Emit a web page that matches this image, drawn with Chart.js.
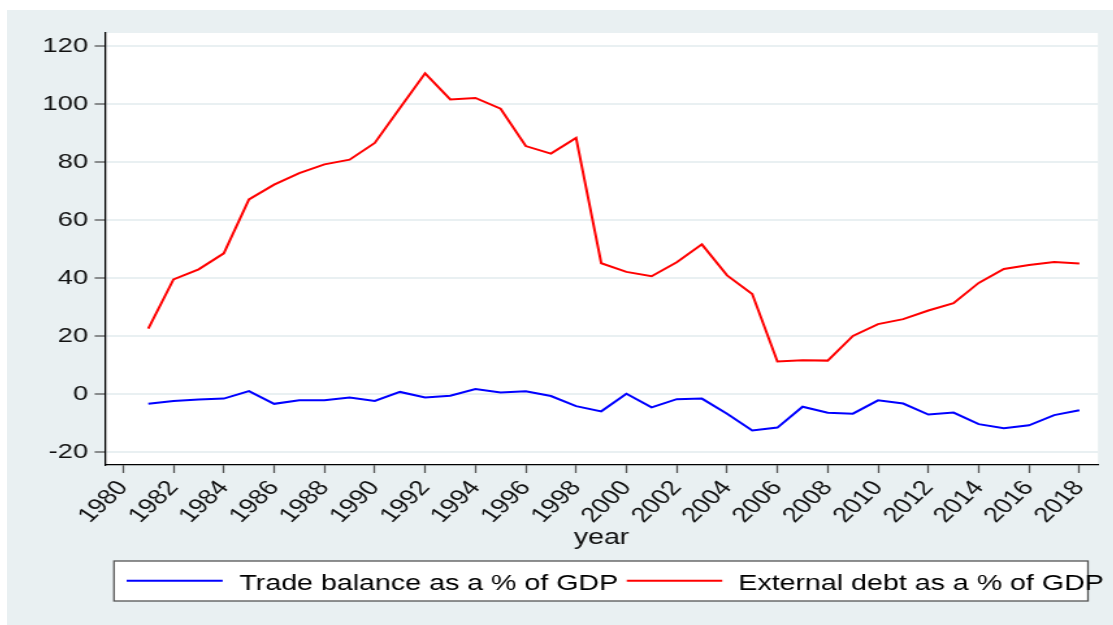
<!DOCTYPE html>
<html>
<head>
<meta charset="utf-8">
<title>Trade balance and external debt</title>
<script src="https://cdn.jsdelivr.net/npm/chart.js@4.4.1/dist/chart.umd.min.js"></script>
<style>
  html, body { margin: 0; padding: 0; background: #ffffff; }
  body { width: 1113px; height: 625px; overflow: hidden; position: relative; }
  /* the graph is laid out on a narrower canvas and widened horizontally */
  #frame { position: absolute; left: 7px; top: 10px; width: 851px; height: 615px;
           transform: scaleX(1.3); transform-origin: 0 0; }
  #chart { display: block; }
</style>
</head>
<body>
<div id="frame"><canvas id="chart" width="851" height="615"></canvas></div>
<script>
// yearly observations
const years = [1981, 1982, 1983, 1984, 1985, 1986, 1987, 1988, 1989, 1990,
               1991, 1992, 1993, 1994, 1995, 1996, 1997, 1998, 1999, 2000,
               2001, 2002, 2003, 2004, 2005, 2006, 2007, 2008, 2009, 2010,
               2011, 2012, 2013, 2014, 2015, 2016, 2017, 2018];

const tradeBalance = [-3.4, -2.4, -1.9, -1.6, 1.0, -3.4, -2.2, -2.2, -1.2, -2.4,
                      0.7, -1.2, -0.6, 1.7, 0.5, 0.9, -0.7, -4.2, -6.0, 0.1,
                      -4.6, -1.8, -1.6, -6.8, -12.6, -11.6, -4.4, -6.5, -6.8, -2.2,
                      -3.3, -7.1, -6.4, -10.4, -11.8, -10.8, -7.3, -5.6];

const externalDebt = [22.5, 39.5, 43.0, 48.5, 67.1, 72.2, 76.2, 79.2, 80.8, 86.6,
                      98.6, 110.6, 101.6, 102.1, 98.4, 85.5, 82.9, 88.3, 45.1, 42.1,
                      40.6, 45.4, 51.6, 40.9, 34.5, 11.2, 11.6, 11.5, 20.0, 24.1,
                      25.8, 28.8, 31.3, 38.3, 43.1, 44.5, 45.5, 45.0];

const seriesNames = ['Trade balance as a % of GDP', 'External debt as a % of GDP'];
const seriesColors = ['#0000ff', '#ff0000'];

const xTicks = [1980, 1982, 1984, 1986, 1988, 1990, 1992, 1994, 1996, 1998,
                2000, 2002, 2004, 2006, 2008, 2010, 2012, 2014, 2016, 2018];
const yTicks = [-20, 0, 20, 40, 60, 80, 100, 120];
const xTitle = 'year';

const FONT = "'Liberation Sans', Arial, Helvetica, sans-serif";
const REGION_BG = '#e9f0f2';

const toPoints = (vals) => years.map((yr, i) => ({ x: yr, y: vals[i] }));

// backgrounds: tinted graph region, white plot region
const backdrop = {
  id: 'backdrop',
  beforeDraw(chart) {
    const { ctx, chartArea: a } = chart;
    ctx.save();
    ctx.fillStyle = REGION_BG;
    ctx.fillRect(0, 0, chart.width, chart.height);
    ctx.fillStyle = '#ffffff';
    ctx.fillRect(a.left, a.top, a.right - a.left, a.bottom - a.top);
    ctx.restore();
  }
};

// boxed legend under the axis title
const boxedLegend = {
  id: 'boxedLegend',
  afterDraw(chart) {
    const { ctx } = chart;
    const box = { left: 82.3, top: 551, right: 831.5, bottom: 591 };
    const lineY = 570.7, textY = 580;
    const entries = [
      { x0: 92, x1: 165.9, tx: 178.7 },
      { x0: 476.7, x1: 550.2, tx: 562.5 }
    ];
    ctx.save();
    ctx.fillStyle = '#ffffff';
    ctx.fillRect(box.left, box.top, box.right - box.left, box.bottom - box.top);
    ctx.strokeStyle = '#555555';
    ctx.lineWidth = 1.3;
    ctx.strokeRect(box.left, box.top, box.right - box.left, box.bottom - box.top);
    ctx.font = '22px ' + FONT;
    ctx.textBaseline = 'alphabetic';
    ctx.textAlign = 'left';
    chart.data.datasets.forEach((ds, i) => {
      const e = entries[i];
      ctx.strokeStyle = ds.borderColor;
      ctx.lineWidth = 2;
      ctx.beginPath();
      ctx.moveTo(e.x0, lineY);
      ctx.lineTo(e.x1, lineY);
      ctx.stroke();
      ctx.fillStyle = '#000000';
      ctx.fillText(ds.label, e.tx, textY);
    });
    ctx.restore();
  }
};

new Chart(document.getElementById('chart'), {
  type: 'line',
  data: {
    datasets: [
      { label: seriesNames[0], data: toPoints(tradeBalance), borderColor: seriesColors[0],
        borderWidth: 2, pointRadius: 0, tension: 0, fill: false },
      { label: seriesNames[1], data: toPoints(externalDebt), borderColor: seriesColors[1],
        borderWidth: 2, pointRadius: 0, tension: 0, fill: false }
    ]
  },
  options: {
    responsive: false,
    animation: false,
    devicePixelRatio: 1,
    layout: { padding: { top: 23, right: 11.8, left: 0, bottom: 0 } },
    plugins: { legend: { display: false }, tooltip: { enabled: false } },
    scales: {
      x: {
        type: 'linear',
        min: 1979.28,
        max: 2018.74,
        afterBuildTicks: (axis) => { axis.ticks = xTicks.map(v => ({ value: v })); },
        afterFit: (axis) => { axis.height = 160; },
        grid: { drawOnChartArea: false, tickLength: 8, tickColor: '#555555', tickWidth: 1.3 },
        border: { display: true, color: '#000000', width: 1.3 },
        ticks: {
          autoSkip: false, minRotation: 50, maxRotation: 50, padding: 3,
          color: '#111111', font: { family: FONT, size: 21 },
          callback: (v) => String(v)
        },
        title: {
          display: true, text: xTitle, color: '#111111',
          font: { family: FONT, size: 22 }, padding: { top: 0, bottom: 74 }
        }
      },
      y: {
        type: 'linear',
        min: -24.5,
        max: 124.5,
        afterBuildTicks: (axis) => { axis.ticks = yTicks.map(v => ({ value: v })); },
        afterFit: (axis) => { axis.width = 75.4; },
        grid: { color: REGION_BG, lineWidth: 2, tickLength: 8, tickColor: '#555555', tickWidth: 1.3 },
        border: { display: true, color: '#000000', width: 1.3 },
        ticks: {
          padding: 5, color: '#111111', font: { family: FONT, size: 21 },
          callback: (v) => String(v)
        }
      }
    }
  },
  plugins: [backdrop, boxedLegend]
});
</script>
</body>
</html>
